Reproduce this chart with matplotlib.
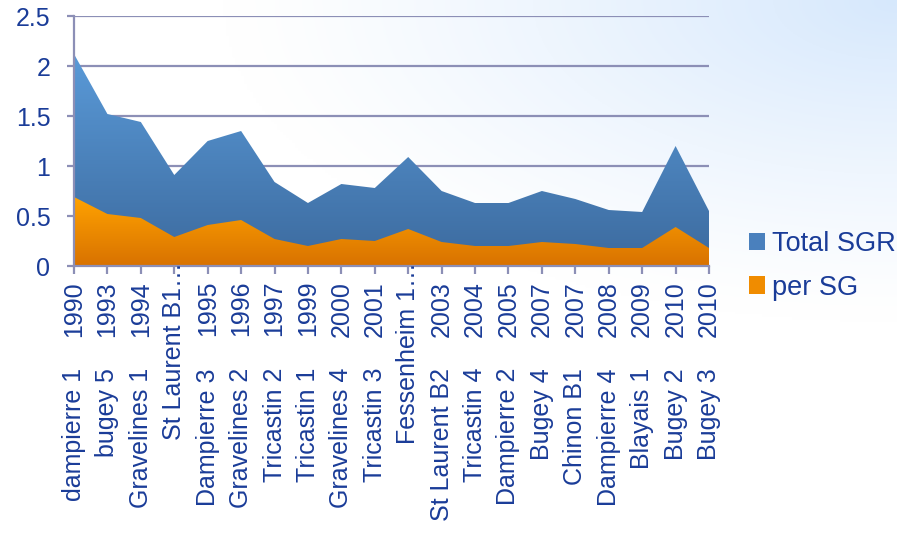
import numpy as np
import matplotlib.pyplot as plt
from matplotlib.patches import Patch
from matplotlib.colors import LinearSegmentedColormap

# données
units = ["dampierre 1", "bugey 5", "Gravelines 1", "St Laurent B1…", "Dampierre 3",
         "Gravelines 2", "Tricastin 2", "Tricastin 1", "Gravelines 4", "Tricastin 3",
         "Fessenheim 1…", "St Laurent B2", "Tricastin 4", "Dampierre 2", "Bugey 4",
         "Chinon B1", "Dampierre 4", "Blayais 1", "Bugey 2", "Bugey 3"]
years = ["1990", "1993", "1994", "", "1995", "1996", "1997", "1999", "2000", "2001",
         "", "2003", "2004", "2005", "2007", "2007", "2008", "2009", "2010", "2010"]
total_sgr = [2.12, 1.52, 1.44, 0.91, 1.25, 1.35, 0.84, 0.63, 0.82, 0.78,
             1.09, 0.75, 0.63, 0.63, 0.75, 0.67, 0.56, 0.54, 1.20, 0.55]
per_sg = [0.69, 0.52, 0.48, 0.29, 0.41, 0.46, 0.27, 0.20, 0.27, 0.25,
          0.37, 0.24, 0.20, 0.20, 0.24, 0.22, 0.18, 0.18, 0.39, 0.18]

txt_color = "#1a3c98"
grid_color = "#8c8fb6"
plt.rcParams['font.family'] = ['Liberation Sans', 'DejaVu Sans']

fig = plt.figure(figsize=(8.97, 5.35), dpi=100)

# fond dégradé bleu clair en haut à droite
bg = fig.add_axes([0, 0, 1, 1], zorder=-10)
yy, xx = np.mgrid[0:1:200j, 0:1:300j]
d = np.sqrt(((1 - xx) / 0.75) ** 2 + (yy / 0.6) ** 2)
a = np.clip(1 - d, 0, 1) ** 1.2
img = np.ones((200, 300, 3))
img[..., 0] = 1 - a * (1 - 0.84)
img[..., 1] = 1 - a * (1 - 0.91)
img[..., 2] = 1 - a * (1 - 0.99)
bg.imshow(img, extent=[0, 1, 0, 1], aspect='auto', origin='upper')
bg.axis('off')

ax = fig.add_axes([74 / 897, 1 - 266 / 535, (709 - 74) / 897, 250 / 535])
ax.patch.set_alpha(0)
x = np.arange(len(units))

blue_cmap = LinearSegmentedColormap.from_list("b", ["#3c6a9e", "#5a9ad8"])
orange_cmap = LinearSegmentedColormap.from_list("o", ["#d87200", "#ffa200"])

for vals, cmap, top, z in [(total_sgr, blue_cmap, max(total_sgr), 2),
                           (per_sg, orange_cmap, max(per_sg), 3)]:
    poly = ax.fill_between(x, vals, color='none', zorder=z)
    grad = np.linspace(1, 0, 100).reshape(-1, 1)
    im = ax.imshow(grad, cmap=cmap, extent=[0, len(units) - 1, 0, top],
                   aspect='auto', zorder=z)
    im.set_clip_path(poly.get_paths()[0], ax.transData)

ax.set_xlim(0, len(units) - 1)
ax.set_ylim(0, 2.5)
ax.set_yticks([0, 0.5, 1, 1.5, 2, 2.5])
ax.set_yticklabels(["0", "0.5", "1", "1.5", "2", "2.5"])
ax.set_xticks(x)
ax.set_xticklabels(years, rotation=90)
ax.yaxis.grid(True, color=grid_color, linewidth=1.6, zorder=1)
ax.set_axisbelow(True)
for s in ['top', 'right', 'bottom']:
    ax.spines[s].set_visible(False)
ax.spines['left'].set_color(grid_color)
ax.spines['left'].set_linewidth(1.6)
ax.spines['left'].set_zorder(5)
ax.axhline(0, color=grid_color, linewidth=1.6, zorder=5, clip_on=False)
ax.tick_params(axis='x', length=5.8, width=1.6, color=grid_color, pad=5,
               labelsize=18, labelcolor=txt_color)
ax.tick_params(axis='y', length=5, width=1.6, color=grid_color, pad=12,
               labelsize=18, labelcolor=txt_color)

# noms des tranches sous les années (les noms tronqués remontent jusqu'à l'axe)
for i, name in enumerate(units):
    off = -102 if years[i] else 4
    ax.annotate(name, xy=(i, 0), xycoords=('data', 'axes fraction'),
                xytext=(0, off), textcoords='offset pixels', rotation=90,
                ha='center', va='top', fontsize=18,
                color=txt_color, annotation_clip=False, zorder=6)

handles = [Patch(facecolor="#4a80bd", label="Total SGR"),
           Patch(facecolor="#f08c00", label="per SG")]
fig.legend(handles=handles, loc='upper left', bbox_to_anchor=(749 / 897, 1 - 231 / 535),
           frameon=False, fontsize=19.5, labelcolor=txt_color, borderpad=0,
           borderaxespad=0, handlelength=0.6, handleheight=0.6,
           handletextpad=0.25, labelspacing=0.65)

plt.savefig('out.png', dpi=100)
